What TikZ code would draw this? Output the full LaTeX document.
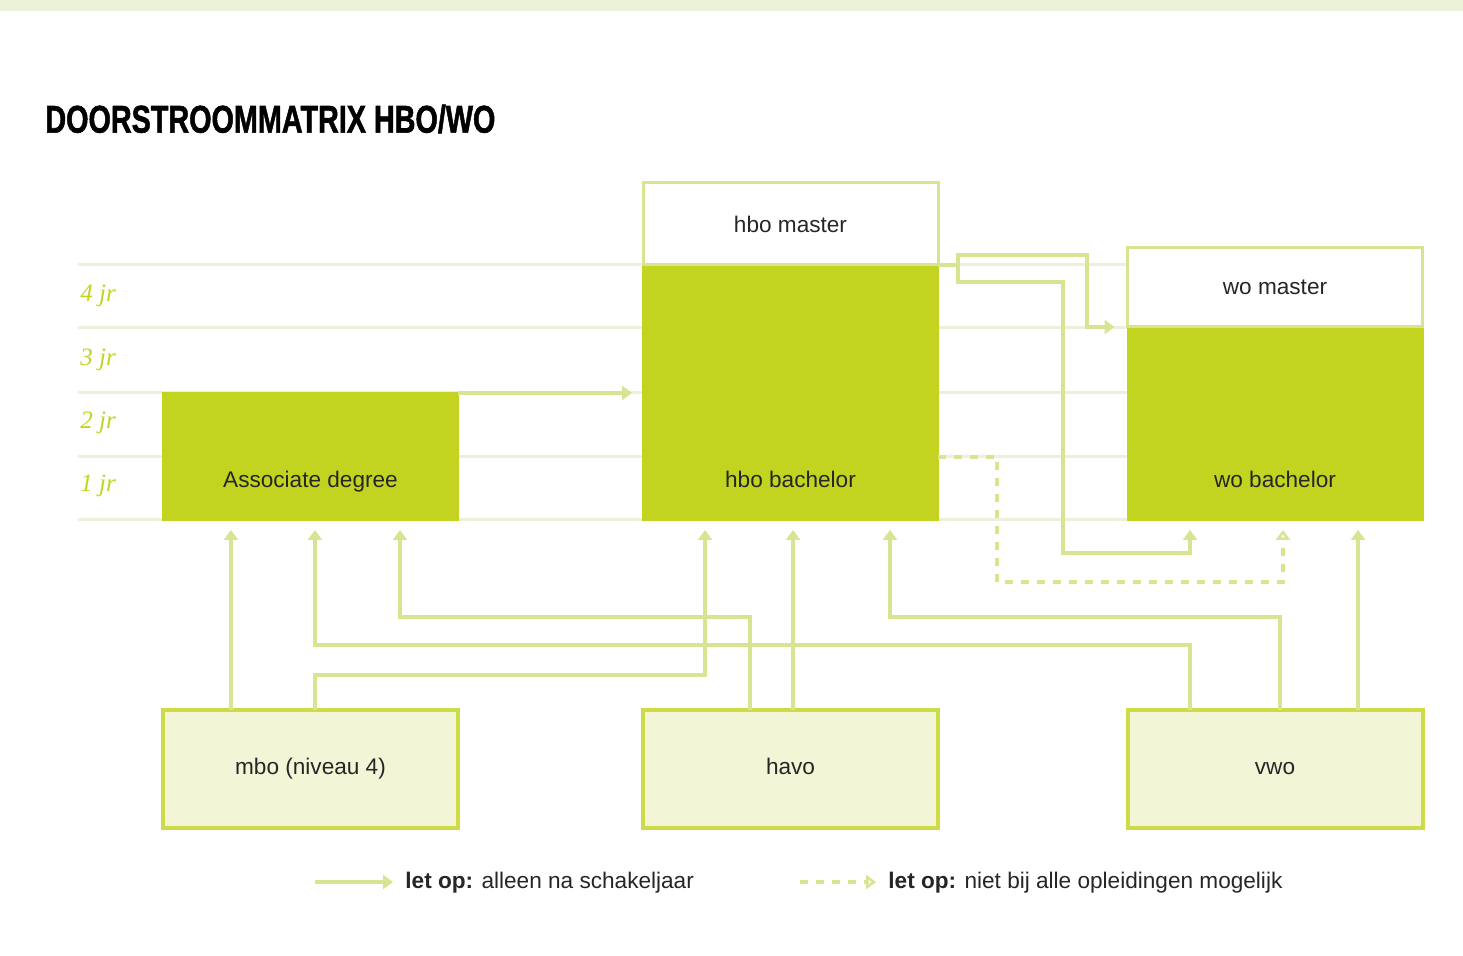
\documentclass[tikz,border=0pt]{standalone}
\usepackage{graphicx}
\usepackage{fontspec}
\setmainfont{Liberation Sans}
\newfontfamily\yrfont{Liberation Serif}
\newfontfamily\titlefont[FakeBold=1.6]{Liberation Sans Bold}
\usetikzlibrary{arrows.meta,positioning}
\definecolor{lime}{RGB}{194,212,32}
\definecolor{limeline}{RGB}{216,228,146}
\definecolor{limepale}{RGB}{243,246,214}
\definecolor{limeedge}{RGB}{204,219,70}
\definecolor{gridc}{RGB}{236,241,218}
\definecolor{txt}{RGB}{38,38,38}

\begin{document}
\begin{tikzpicture}[x=0.5pt,y=-0.5pt,
  greenbox/.style={draw=lime,fill=lime,line width=1pt,inner sep=0pt,outer sep=0pt,minimum width=147.5pt},
  topbox/.style={draw=limeline,fill=white,line width=1.5pt,inner sep=0pt,outer sep=0pt,minimum width=147.5pt,font=\fontsize{11.3}{13}\selectfont,text=txt},
  basebox/.style={draw=limeedge,fill=limepale,line width=2pt,inner sep=0pt,outer sep=0pt,minimum width=147.5pt,minimum height=59pt,font=\fontsize{11.3}{13}\selectfont,text=txt,text height=8.5pt,text depth=2.5pt},
  lbl/.style={font=\fontsize{11.3}{13}\selectfont,text=txt,text height=8.5pt,text depth=2.5pt},
  yr/.style={font=\yrfont\itshape\fontsize{12.5}{14}\selectfont,text=lime,anchor=west,inner sep=0pt},
  flow/.style={draw=limeline,line width=2.2pt,-{Triangle[width=7pt,length=5pt]}},
  dflow/.style={draw=limeline,line width=2pt,dash pattern=on 4pt off 4pt,-{Triangle[open,width=7pt,length=5pt]}},
  gridline/.style={draw=gridc,line width=1.5pt}]

%Background
\fill[white] (0,0) rectangle (1463,956);
\useasboundingbox (0,0) rectangle (1463,956);
\fill[gridc] (0,0) rectangle (1463,11);

% Title
\node[anchor=west,inner sep=0pt] (title) at (45,119) {\resizebox{225pt}{14pt}{\titlefont DOORSTROOMMATRIX HBO/WO}};

%Grid lines and years
\foreach \yy in {265,328,393,457,520}
  \draw[gridline] (78,\yy) -- (1422,\yy);
\node[yr] (jr4) at (80,296) {4 jr};
\node[yr] (jr3) at (80,360) {3 jr};
\node[yr] (jr2) at (80,423) {2 jr};
\node[yr] (jr1) at (80,486) {1 jr};

%Shape: Rectangles (programmes)
\node[greenbox,minimum height=63.5pt] (ad) at (310.5,456.5) {};
\node[greenbox,minimum height=127.5pt] (hbob) at (790.5,392.5) {};
\node[topbox,minimum height=41pt,above=0pt of hbob] (hbom) {hbo master};
\node[greenbox,minimum height=96.5pt] (wob) at (1275,423.5) {};
\node[topbox,minimum height=39.5pt,above=0pt of wob] (wom) {wo master};

% Text Node
\node[lbl] (adl) at ([yshift=19pt]ad.south) {Associate degree};
\node[lbl] (hbobl) at ([yshift=19pt]hbob.south) {hbo bachelor};
\node[lbl] (wobl) at ([yshift=19pt]wob.south) {wo bachelor};

%Shape: Rectangles (prior education)
\node[basebox] (mbo) at (310.5,769) {mbo (niveau 4)};
\node[basebox] (havo) at (790.5,769) {havo};
\node[basebox] (vwo) at (1275,769) {vwo};

%Straight Lines
% mbo
\draw[flow] ([xshift=-39.75pt]mbo.north) -- ([xshift=-39.75pt,yshift=-5pt]ad.south);
\draw[flow] ([xshift=2.25pt]mbo.north) -- ++(0,-35) -| ([xshift=-42.75pt,yshift=-5pt]hbob.south);
% havo
\draw[flow] ([xshift=-20.25pt]havo.north) -- ++(0,-93) -| ([xshift=44.75pt,yshift=-5pt]ad.south);
\draw[flow] ([xshift=1.25pt]havo.north) -- ([xshift=1.25pt,yshift=-5pt]hbob.south);
% vwo
\draw[flow] ([xshift=-42.5pt]vwo.north) -- ++(0,-65) -| ([xshift=2.25pt,yshift=-5pt]ad.south);
\draw[flow] ([xshift=2.5pt]vwo.north) -- ++(0,-93) -| ([xshift=49.75pt,yshift=-5pt]hbob.south);
\draw[flow] ([xshift=41.5pt]vwo.north) -- ([xshift=41.5pt,yshift=-5pt]wob.south);
% Associate degree and hbo bachelor
\draw[flow] (ad.north east) -- ([xshift=-5.5pt]ad.north east -| hbob.west);
\draw[flow] (hbob.north east) -- ++(20,0) -- ++(0,-10) -- ++(129,0) |- ([xshift=-6.5pt]wom.south west);
\draw[flow] (hbob.north east) -- ++(20,0) -- ++(0,17) -- ++(105,0) -- ++(0,271) -| ([xshift=-42.5pt,yshift=-5pt]wob.south);
\draw[dflow] ([yshift=-32.25pt]hbob.east) -- ++(59,0) -- ++(0,125) -| ([xshift=4pt,yshift=-5pt]wob.south);

% Legend
\coordinate (k1) at (315,882);
\node[lbl,anchor=west,inner sep=0pt] (key1) at (405,882) {\textbf{let op:} alleen na schakeljaar};
\draw[flow] (k1) -- ([xshift=-6pt]key1.west);
\coordinate (k2) at (800,882);
\node[lbl,anchor=west,inner sep=0pt] (key2) at (888,882) {\textbf{let op:} niet bij alle opleidingen mogelijk};
\draw[dflow] (k2) -- ([xshift=-6pt]key2.west);

\end{tikzpicture}
\end{document}
